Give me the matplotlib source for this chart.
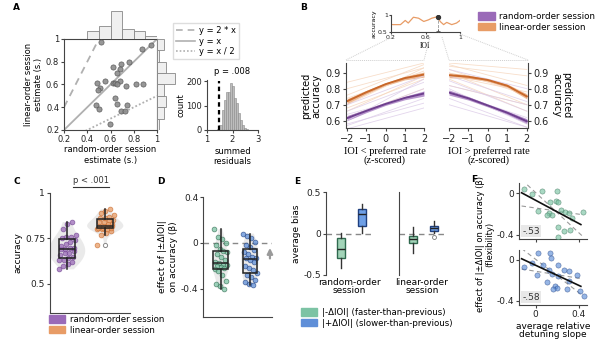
import numpy as np
import matplotlib
matplotlib.use('Agg')
import matplotlib.pyplot as plt
from matplotlib.patches import Patch
from matplotlib.lines import Line2D

plt.rcParams['font.family'] = ['DejaVu Sans']
plt.rcParams['font.size'] = 6
plt.rcParams['axes.linewidth'] = 0.8
plt.rcParams['axes.edgecolor'] = '#444444'
plt.rcParams['xtick.major.size'] = 2
plt.rcParams['ytick.major.size'] = 2
plt.rcParams['xtick.color'] = '#444444'
plt.rcParams['ytick.color'] = '#444444'
plt.rcParams['xtick.labelcolor'] = '#222222'
plt.rcParams['ytick.labelcolor'] = '#222222'

# ---- data: panel A ----
random_est = [0.517, 0.870, 0.951, 0.761, 0.692, 0.620, 0.678, 0.660, 0.554, 0.683,
              0.482, 0.620, 0.640, 0.655, 0.735, 0.822, 0.876, 0.511, 0.496, 0.640,
              0.655, 0.473, 0.502, 0.741, 0.689, 0.727, 0.597]
linear_est = [0.970, 0.914, 0.944, 0.801, 0.781, 0.757, 0.736, 0.704, 0.630, 0.630,
              0.609, 0.609, 0.609, 0.603, 0.588, 0.606, 0.603, 0.570, 0.556, 0.481,
              0.425, 0.422, 0.381, 0.422, 0.366, 0.363, 0.253]
resid_centers = [1.45, 1.53, 1.61, 1.69, 1.77, 1.85, 1.93, 2.01, 2.09, 2.17, 2.25,
                 2.33, 2.41, 2.49, 2.57, 2.65]
resid_counts = [3, 20, 84, 124, 155, 155, 192, 182, 132, 110, 68, 40, 20, 10, 5, 2]
observed_resid = 1.47

# ---- data: panel B ----
inset_ioi = [0.2, 0.23, 0.31, 0.365, 0.40, 0.46, 0.52, 0.58, 0.635, 0.673, 0.742,
             0.77, 0.81, 0.846, 0.904, 0.96, 1.0]
inset_acc = [0.72, 0.717, 0.717, 0.84, 0.764, 0.934, 0.906, 0.81, 0.858, 0.906, 0.953,
             0.81, 0.717, 0.783, 0.717, 0.764, 0.84]
preferred_ioi = 0.742
preferred_acc = 0.953

z_grid = [-2, -1, 0, 1, 2]
left_linear = [0.722, 0.778, 0.828, 0.866, 0.888]
left_random = [0.617, 0.662, 0.705, 0.742, 0.770]
right_linear = [0.884, 0.874, 0.854, 0.818, 0.752]
right_random = [0.776, 0.740, 0.695, 0.650, 0.597]
band_se = [0.016, 0.011, 0.009, 0.011, 0.016]
# faint single-participant fits (value at z=-2, value at z=2)
left_linear_subj = [(0.62, 0.80), (0.66, 0.88), (0.70, 0.93), (0.76, 0.95), (0.80, 0.93),
                    (0.84, 0.96), (0.68, 0.86), (0.74, 0.91)]
left_random_subj = [(0.55, 0.68), (0.57, 0.74), (0.62, 0.80), (0.66, 0.84), (0.70, 0.88),
                    (0.58, 0.71), (0.64, 0.77), (0.60, 0.86)]
right_linear_subj = [(0.95, 0.82), (0.92, 0.76), (0.90, 0.70), (0.94, 0.88), (0.86, 0.66),
                     (0.88, 0.78), (0.96, 0.92), (0.82, 0.70)]
right_random_subj = [(0.85, 0.66), (0.80, 0.58), (0.74, 0.56), (0.88, 0.72), (0.70, 0.56),
                     (0.78, 0.62), (0.92, 0.80), (0.82, 0.70)]

# ---- data: panel C ----
acc_random = [0.58, 0.60, 0.61, 0.62, 0.63, 0.63, 0.64, 0.65, 0.66, 0.67, 0.67, 0.68,
              0.69, 0.69, 0.70, 0.70, 0.71, 0.72, 0.73, 0.74, 0.75, 0.76, 0.76, 0.77,
              0.80, 0.83, 0.84]
acc_linear = [0.715, 0.77, 0.78, 0.79, 0.80, 0.80, 0.80, 0.81, 0.81, 0.81, 0.82, 0.82,
              0.82, 0.82, 0.83, 0.83, 0.84, 0.84, 0.85, 0.85, 0.86, 0.86, 0.87, 0.88,
              0.89, 0.90, 0.91]

# ---- data: panel D ----
beta_faster = [0.12, 0.05, 0.03, 0.0, -0.02, -0.05, -0.07, -0.08, -0.10, -0.12, -0.15,
               -0.17, -0.18, -0.19, -0.19, -0.20, -0.21, -0.22, -0.23, -0.25, -0.28,
               -0.33, -0.36, -0.38, -0.40]
beta_slower = [0.08, 0.06, 0.04, 0.01, -0.02, -0.04, -0.06, -0.08, -0.10, -0.12, -0.13,
               -0.13, -0.15, -0.17, -0.20, -0.22, -0.24, -0.26, -0.28, -0.30, -0.32,
               -0.34, -0.36, -0.37]

# ---- data: panel E (whislo, q1, median, q3, whishi) ----
bias_random_faster = [-0.42, -0.29, -0.19, -0.05, 0.01]
bias_random_slower = [0.01, 0.09, 0.235, 0.295, 0.36]
bias_linear_faster = [-0.23, -0.12, -0.07, -0.03, 0.08]
bias_linear_slower = [0.01, 0.033, 0.065, 0.093, 0.145]
bias_linear_slower_out = [-0.04]

# ---- data: panel F ----
slope_faster = [-0.109, -0.038, 0.056, 0.197, 0.134, 0.187, 0.212, 0.019, 0.125, 0.150,
                0.234, 0.275, 0.306, 0.440, 0.103, 0.338, 0.212, 0.266, 0.322, 0.212]
flex_faster = [0.038, -0.006, 0.016, 0.016, -0.09, -0.08, -0.09, -0.17, -0.19, -0.21,
               -0.16, -0.186, -0.19, -0.186, -0.21, -0.24, -0.326, -0.36, -0.358, -0.42]
slope_slower = [-0.106, -0.034, 0.025, 0.134, 0.144, 0.072, 0.212, 0.125, 0.150, 0.259,
                0.212, 0.312, 0.384, 0.109, 0.181, 0.203, 0.166, 0.290, 0.415, 0.447,
                0.306, 0.010]
flex_slower = [-0.07, -0.032, 0.064, 0.064, 0.016, -0.048, -0.048, -0.10, -0.134, -0.096,
               -0.16, -0.112, -0.15, -0.214, -0.256, -0.272, -0.288, -0.28, -0.304, -0.352,
               -0.208, -0.144]
r_faster = '-.53'
r_slower = '-.58'

# colours
purple, purple_l, purple_f = '#6e3f8e', '#9a6ab8', '#dccbe8'
orange, orange_l, orange_f = '#c8682a', '#e89c66', '#f6d6bd'
green, green_d = '#7cc3a4', '#2f6a4f'
blue, blue_d = '#5f8fd8', '#1f3f7f'
grey = '#b0b0b0'
serif = ['Liberation Serif', 'DejaVu Serif']

W, H = 601, 342
fig = plt.figure(figsize=(W / 100, H / 100), dpi=100)


def box(l, t, r, b):
    return fig.add_axes([l / W, 1 - b / H, (r - l) / W, (b - t) / H])


def keep(ax, sides):
    for s in ['left', 'right', 'top', 'bottom']:
        ax.spines[s].set_visible(s in sides)


def jitter(n, width):
    return ((np.arange(n) * 7 % n) / max(n - 1, 1) - 0.5) * width


def letter(x, y, s):
    fig.text(x / W, 1 - y / H, s, fontsize=6.5, fontweight='bold', va='center', ha='left')


# ================= panel A =================
axA = box(64, 39, 157, 130)
xx = np.linspace(0.2, 1, 50)
axA.plot(xx, 2 * xx, ls=(0, (4, 3)), c=grey, lw=1.3)
axA.plot(xx, xx, c=grey, lw=1.3)
axA.plot(xx, xx / 2, ls=(0, (1, 1.2)), c=grey, lw=1.3)
axA.scatter(random_est, linear_est, s=14, c='#8c8c8c', edgecolors='#555555', linewidths=0.5,
            alpha=0.9, zorder=3)
axA.set_xlim(0.2, 1)
axA.set_ylim(0.2, 1)
tk = [0.2, 0.4, 0.6, 0.8, 1]
axA.set_xticks(tk, ['0.2', '0.4', '0.6', '0.8', '1'])
axA.set_yticks(tk, ['0.2', '0.4', '0.6', '0.8', '1'])
axA.tick_params(labelsize=6, length=2, pad=1.5)
axA.set_xlabel('random-order session\nestimate (s.)', fontsize=6, labelpad=1)
axA.set_ylabel('linear-order session\nestimate (s.)', fontsize=6, labelpad=2)

axAt = box(64, 10, 157, 39)
axAt.hist(random_est, bins=np.arange(0.2, 1.01, 0.1), color='#efefef', ec='#888888', lw=0.6)
axAt.set_xlim(0.2, 1)
axAt.set_ylim(0, 11.5)
axAt.axis('off')

axAr = box(157, 39, 178, 130)
axAr.hist(linear_est, bins=np.arange(0.2, 1.01, 0.1), color='#efefef', ec='#888888', lw=0.6,
          orientation='horizontal')
axAr.set_ylim(0.2, 1)
axAr.set_xlim(0, 9.5)
axAr.axis('off')

fig.legend(handles=[Line2D([], [], c=grey, ls=(0, (4, 3)), lw=1.2),
                    Line2D([], [], c=grey, ls='-', lw=1.2),
                    Line2D([], [], c=grey, ls=(0, (1, 1.2)), lw=1.2)],
           labels=['y = 2 * x', 'y = x', 'y = x / 2'], loc='upper left',
           bbox_to_anchor=(173 / W, 1 - 23 / H), fontsize=6, fancybox=False,
           edgecolor='#dddddd', framealpha=1, handlelength=2.2, borderpad=0.4,
           labelspacing=0.15, handletextpad=0.5, borderaxespad=0)

axAi = box(207, 80, 258, 130)
axAi.bar(resid_centers, resid_counts, width=0.08, color='#bdbdbd', ec='#8a8a8a', lw=0.4)
axAi.plot([observed_resid, observed_resid], [0, 200], c='black', lw=1.6, ls=(0, (2, 1.5)))
axAi.set_xlim(1, 3)
axAi.set_ylim(0, 205)
axAi.set_xticks([1, 2, 3])
axAi.set_yticks([0, 100, 200])
axAi.tick_params(labelsize=6, length=2, pad=1.5)
keep(axAi, ['left', 'bottom'])
axAi.set_title('p = .008', fontsize=6, pad=4)
axAi.set_xlabel('summed\nresiduals', fontsize=6, labelpad=2)
axAi.set_ylabel('count', fontsize=6, labelpad=1)

# ================= panel B =================
axBi = box(391, 15, 460, 32)
axBi.plot(inset_ioi, inset_acc, c=orange_l, lw=0.9)
axBi.plot([preferred_ioi, preferred_ioi], [0.5, preferred_acc], c='#999999', lw=0.6, ls='--')
axBi.scatter([preferred_ioi], [preferred_acc], s=8, c='#333333', zorder=3)
axBi.scatter([preferred_ioi], [0.52], s=6, marker='+', c='#555555', lw=0.6, zorder=3)
axBi.set_xlim(0.2, 1)
axBi.set_ylim(0.5, 1.0)
axBi.set_xticks([0.2, 0.6, 1], ['0.2', '0.6', '1'])
axBi.set_yticks([0.5, 1], ['0.5', '1'])
axBi.tick_params(labelsize=4.5, length=1.5, pad=0.8)
keep(axBi, ['left', 'bottom'])
axBi.set_xlabel('IOI', fontsize=5.5, family=serif, labelpad=1.5)
axBi.set_ylabel('accuracy', fontsize=4.5, labelpad=1)

for seg in [((392, 37), (346, 60)), ((430, 37), (424, 60)), ((442, 37), (449, 60)),
            ((460, 34), (528, 60)), ((346, 60), (424, 60)), ((449, 60), (528, 60))]:
    (x1, y1), (x2, y2) = seg
    fig.add_artist(Line2D([x1 / W, x2 / W], [1 - y1 / H, 1 - y2 / H], transform=fig.transFigure,
                          c='#cfcfcf', lw=0.7, ls=(0, (1, 1))))

panels_B = [
    (box(346, 63, 424, 128), left_linear, left_random, left_linear_subj, left_random_subj,
     'IOI < preferred rate\n(z-scored)', 'left', (-2.06, 2)),
    (box(449, 63, 528, 128), right_linear, right_random, right_linear_subj, right_random_subj,
     'IOI > preferred rate\n(z-scored)', 'right', (-2, 2.06)),
]
zg = np.array(z_grid)
for ax, lin, ran, lin_s, ran_s, xl, side, xlim in panels_B:
    for a, b in lin_s:
        ax.plot([-2, 2], [a, b], c=orange_f, lw=0.6, alpha=0.8)
    for a, b in ran_s:
        ax.plot([-2, 2], [a, b], c=purple_f, lw=0.6, alpha=0.8)
    ax.fill_between(zg, np.array(lin) - band_se, np.array(lin) + band_se, color=orange_l,
                    alpha=0.7, lw=0)
    ax.fill_between(zg, np.array(ran) - band_se, np.array(ran) + band_se, color=purple_l,
                    alpha=0.7, lw=0)
    ax.plot(zg, lin, c=orange, lw=1.4)
    ax.plot(zg, ran, c=purple, lw=1.4)
    ax.set_xlim(*xlim)
    ax.set_ylim(0.555, 0.96)
    ax.set_xticks(z_grid)
    ax.set_yticks([0.6, 0.7, 0.8, 0.9])
    ax.tick_params(labelsize=7, length=2.5, pad=1.5)
    keep(ax, [side, 'bottom'])
    ax.set_xlabel(xl, fontsize=7.5, family=serif, labelpad=2, linespacing=0.95)
    if side == 'right':
        ax.yaxis.tick_right()
        ax.yaxis.set_label_position('right')
        ax.set_ylabel('predicted\naccuracy', fontsize=7, rotation=270, labelpad=16,
                      linespacing=0.95)
    else:
        ax.set_ylabel('predicted\naccuracy', fontsize=7, labelpad=3, linespacing=0.95)

fig.legend(handles=[Patch(color=purple_l), Patch(color=orange_l)],
           labels=['random-order session', 'linear-order session'], loc='upper left',
           bbox_to_anchor=(478 / W, 1 - 12 / H), frameon=False, fontsize=6.3,
           handlelength=1.9, handleheight=0.9, labelspacing=0.2, handletextpad=0.5,
           borderaxespad=0, borderpad=0)

# ================= panel C =================
axC = box(50, 193, 130, 313)
vp = axC.violinplot([acc_random, acc_linear], positions=[1, 2], widths=0.95,
                    showextrema=False)
for body in vp['bodies']:
    body.set_facecolor('#d9d9d9')
    body.set_alpha(0.55)
    body.set_edgecolor('none')
for pos, vals, fc, ec in [(1, acc_random, purple_l, purple), (2, acc_linear, orange_l, orange)]:
    axC.scatter(pos + jitter(len(vals), 0.45), vals, s=12, c=fc, edgecolors=ec, lw=0.5,
                alpha=0.75, zorder=3)
axC.boxplot([acc_random, acc_linear], positions=[1, 2], widths=0.42, patch_artist=True,
            boxprops=dict(facecolor='none', edgecolor='#222222', lw=1.1),
            medianprops=dict(color='#222222', lw=1.1),
            whiskerprops=dict(color='#222222', lw=1.1), capprops=dict(lw=0),
            flierprops=dict(marker='o', mfc='white', mec='#888888', ms=3, mew=0.7), zorder=4)
axC.set_xlim(0.55, 2.65)
axC.set_ylim(0.34, 1.0)
axC.set_xticks([])
axC.set_yticks([0.5, 0.75, 1], ['0.5', '0.75', '1'])
axC.tick_params(labelsize=6.5, length=2, pad=1.5)
keep(axC, ['left', 'bottom'])
axC.set_ylabel('accuracy', fontsize=6.5, labelpad=2)
axC.plot([1.15, 2.1], [1.035, 1.035], c='#333333', lw=0.8, clip_on=False)
axC.text(1.62, 1.045, 'p < .001', fontsize=6, ha='center', va='bottom', color='#333333')

fig.legend(handles=[Patch(color=purple_l), Patch(color=orange_l)],
           labels=['random-order session', 'linear-order session'], loc='upper left',
           bbox_to_anchor=(49 / W, 1 - 315 / H), frameon=False, fontsize=6.2,
           handlelength=1.9, handleheight=0.9, labelspacing=0.2, handletextpad=0.5,
           borderaxespad=0, borderpad=0)

# ================= panel D =================
axD = box(203, 197, 272, 317)
vp = axD.violinplot([beta_faster, beta_slower], positions=[1, 2], widths=0.6,
                    showextrema=False)
for body in vp['bodies']:
    body.set_facecolor('#d9d9d9')
    body.set_alpha(0.55)
    body.set_edgecolor('none')
axD.axhline(0, c='#888888', lw=1.0, ls=(0, (4, 3)))
for pos, vals, fc, ec in [(1, beta_faster, green, green_d), (2, beta_slower, blue, blue_d)]:
    axD.scatter(pos + jitter(len(vals), 0.45), vals, s=12, c=fc, edgecolors=ec, lw=0.5,
                alpha=0.75, zorder=3)
axD.boxplot([beta_faster, beta_slower], positions=[1, 2], widths=0.5, patch_artist=True,
            boxprops=dict(facecolor='none', edgecolor='#222222', lw=1.1),
            medianprops=dict(color='#222222', lw=1.1),
            whiskerprops=dict(color='#222222', lw=1.1), capprops=dict(lw=0),
            showfliers=False, zorder=4)
axD.annotate('', xy=(2.68, -0.02), xytext=(2.68, -0.16),
             arrowprops=dict(arrowstyle='-|>', color='#9a9a9a', lw=1.6, mutation_scale=8))
axD.set_xlim(0.4, 2.75)
axD.set_ylim(-0.647, 0.4)
axD.set_xticks([])
axD.set_yticks([0.4, 0, -0.4], ['0.4', '0', '-0.4'])
axD.tick_params(labelsize=6.5, length=2, pad=1.5)
keep(axD, ['left', 'bottom'])
axD.set_ylabel('effect of |±ΔIOI|\non accuracy (β)', fontsize=6.5, labelpad=2)

# ================= panel E =================
def stats(v, label):
    return dict(whislo=v[0], q1=v[1], med=v[2], q3=v[3], whishi=v[4], fliers=[], label=label)


axE1 = box(326, 192, 373, 275)
axE2 = box(399, 192, 445, 275)
for ax, f, s, xl, xlim in [(axE1, bias_random_faster, bias_random_slower,
                            'random-order\nsession', (0.29, 2.52)),
                           (axE2, bias_linear_faster, bias_linear_slower,
                            'linear-order\nsession', (0.33, 2.52))]:
    ax.axhline(0, c='#888888', lw=1.0, ls=(0, (4, 3)))
    bp = ax.bxp([stats(f, ''), stats(s, '')], positions=[1, 2], widths=0.38,
                patch_artist=True, showcaps=False,
                medianprops=dict(color='#222222', lw=1.0),
                whiskerprops=dict(color='#333333', lw=1.0))
    for patch, fc, ec in zip(bp['boxes'], ['#a2d4b8', '#6e9fe6'], [green_d, blue_d]):
        patch.set_facecolor(fc)
        patch.set_edgecolor(ec)
        patch.set_linewidth(1.0)
    ax.set_xlim(*xlim)
    ax.set_ylim(-0.5, 0.5)
    ax.set_xticks([])
    keep(ax, ['left'])
    ax.set_xlabel(xl, fontsize=6.5, labelpad=2, linespacing=0.95)
axE2.scatter([2] * len(bias_linear_slower_out), bias_linear_slower_out, s=8, facecolors='white',
             edgecolors='#777777', lw=0.6, zorder=4)
axE1.set_yticks([0.5, 0, -0.5], ['0.5', '0', '-0.5'])
axE1.tick_params(labelsize=6.5, length=2, pad=1.5)
axE2.set_yticks([])
axE1.set_ylabel('average bias', fontsize=6.5, labelpad=2)

fig.legend(handles=[Patch(color=green), Patch(color=blue)],
           labels=['|-ΔIOI| (faster-than-previous)', '|+ΔIOI| (slower-than-previous)'],
           loc='upper left', bbox_to_anchor=(301 / W, 1 - 308 / H), frameon=False,
           fontsize=6.2, handlelength=1.9, handleheight=0.9, labelspacing=0.2,
           handletextpad=0.5, borderaxespad=0, borderpad=0)

# ================= panel F =================
axF1 = box(519, 183, 587, 239)
axF2 = box(519, 250, 587, 305)
for ax, xs, ys, fc, ec, rtxt in [(axF1, slope_faster, flex_faster, green, green_d, r_faster),
                                 (axF2, slope_slower, flex_slower, blue, blue_d, r_slower)]:
    xs_a, ys_a = np.array(xs), np.array(ys)
    n = len(xs_a)
    b, a = np.polyfit(xs_a, ys_a, 1)
    res = ys_a - (a + b * xs_a)
    sxx = ((xs_a - xs_a.mean()) ** 2).sum()
    se_b = np.sqrt((res ** 2).sum() / (n - 2) / sxx)
    xl = np.array([-0.13, 0.44])
    for bb in [b - 2.1 * se_b, b + 2.1 * se_b]:
        ax.plot(xl, ys_a.mean() + bb * (xl - xs_a.mean()), c='#9a9a9a', lw=0.8, ls=(0, (4, 3)))
    ax.scatter(xs_a, ys_a, s=14, c=fc, edgecolors=ec, lw=0.4, alpha=0.65, zorder=3)
    xf = np.array([-0.13, 0.42])
    ax.plot(xf, a + b * xf, c='#111111', lw=1.2, zorder=4)
    ax.text(-0.125, -0.365, rtxt, fontsize=6.5, ha='left', va='center', color='#333333',
            bbox=dict(boxstyle='square,pad=0.15', fc='#e8e8e8', ec='none'))
    ax.set_xlim(-0.154, 0.477)
    ax.set_ylim(-0.44, 0.096)
    ax.set_xticks([0, 0.4])
    ax.set_yticks([0, -0.4], ['0', '-0.4'])
    ax.tick_params(labelsize=6.5, length=2, pad=1.5)
    keep(ax, ['left', 'bottom'])
axF1.set_xticklabels([])
axF2.set_xticklabels(['0', '0.4'])
axF2.set_xlabel('average relative\ndetuning slope', fontsize=6.5, labelpad=2, linespacing=0.95)
fig.text(485 / W, 1 - 244 / H, 'effect of |±ΔIOI| on accuracy (β)\n(flexibility)', fontsize=6,
         rotation=90, ha='center', va='center', linespacing=0.95)

for x, y, s in [(13, 7, 'A'), (300, 7, 'B'), (13, 181, 'C'), (157, 181, 'D'), (294, 181, 'E'),
                (471, 179, 'F')]:
    letter(x, y, s)

fig.savefig('out.png', dpi=100)
